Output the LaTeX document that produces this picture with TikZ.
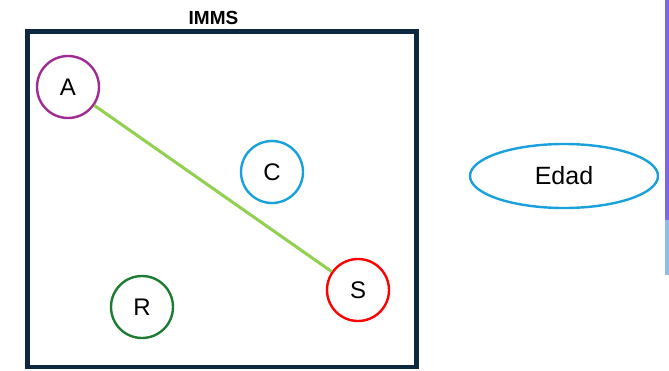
\documentclass[tikz,border=0pt]{standalone}
\usepackage{fontspec}
\setmainfont{Liberation Sans}
\usetikzlibrary{shapes.geometric}
\definecolor{boxc}{HTML}{0E2841}
\definecolor{ca}{HTML}{A02B93}
\definecolor{cc}{HTML}{1AA0DB}
\definecolor{cs}{HTML}{FF0000}
\definecolor{cr}{HTML}{1E7B34}
\definecolor{cline}{HTML}{92D050}
\definecolor{bar1}{HTML}{7B68E6}
\definecolor{bar2}{HTML}{8DBDEA}
\begin{document}
\begin{tikzpicture}[x=1pt,y=-1pt,
  ent/.style={circle,draw,line width=2.4pt,minimum size=62pt,inner sep=0pt,font=\fontsize{24}{28}\selectfont},
]
\useasboundingbox (0,0) rectangle (669,370);
\fill[white] (0,0) rectangle (669,370);
\draw[boxc,line width=4.5pt] (27.5,31.5) rectangle (416.5,367);
\node[font=\bfseries\fontsize{19}{22}\selectfont] (title) at (213.5,17.5) {IMMS};
\node[ent,draw=ca] (A) at (68,87) {A};
\node[ent,draw=cc] (C) at (272,172) {C};
\node[ent,draw=cs] (S) at (358,290) {S};
\node[ent,draw=cr] (R) at (142,307) {R};
\node[ellipse,draw=cc,line width=2.4pt,minimum width=188pt,minimum height=64pt,inner sep=0pt,font=\fontsize{25}{30}\selectfont] (E) at (564,176) {Edad};
\draw[cline,line width=3pt] (A) -- (S);
\fill[bar1] (665,0) rectangle (669,220);
\fill[bar2] (665,220) rectangle (669,275);
\end{tikzpicture}
\end{document}
